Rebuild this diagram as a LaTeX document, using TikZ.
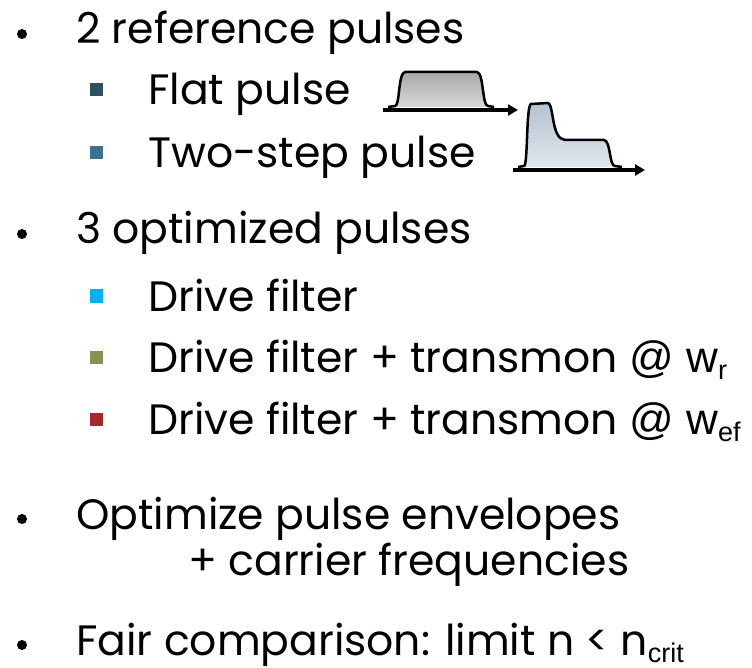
\documentclass[tikz,border=0pt]{standalone}
\usepackage{fontspec}
\setmainfont{Poppins}
\newfontfamily\subfont{Liberation Sans}
\usetikzlibrary{arrows.meta,positioning}

\definecolor{sqflat}{HTML}{2F5062}
\definecolor{sqstep}{HTML}{3D6F90}
\definecolor{sqdrive}{HTML}{00B0F0}
\definecolor{sqwr}{HTML}{8A9150}
\definecolor{sqwef}{HTML}{A5282C}
\definecolor{flattop}{HTML}{A8A8A8}
\definecolor{flatbot}{HTML}{D8D8D8}
\definecolor{steptop}{HTML}{B4C2D0}
\definecolor{stepbot}{HTML}{E2E7EE}

% symbols and subscripts set in a second face
\newcommand{\arialpart}[1]{{\subfont\fontsize{44}{44}\selectfont #1}}
\newcommand{\lowsub}[1]{\raisebox{-7pt}{\subfont\fontsize{27}{27}\selectfont #1}}

\tikzset{
  txt/.style={anchor=base west, inner sep=0pt, font=\fontsize{42.5}{46}\selectfont},
  dot/.style={circle, fill=black, minimum size=10pt, inner sep=0pt},
  marker/.style={fill=#1, minimum size=13pt, inner sep=0pt},
  pulseline/.style={line width=3.5pt, -{Triangle[length=10pt,width=11pt]}},
}

\begin{document}
\begin{tikzpicture}[x=1pt,y=-1pt]
\useasboundingbox (0,0) rectangle (752,668);

% main bullets
\node[dot] (d1) at (22,34) {};
\node[txt] (head1) at (76,44) {2 reference pulses};
\node[dot] (d2) at (22,234) {};
\node[txt] (head2) at (76,244) {3 optimized pulses};
\node[dot] (d3) at (22,519) {};
\node[txt] (head3) at (76,529) {Optimize pulse envelopes};
\node[txt] (head3b) at (188,575) {+ carrier frequencies};
\node[dot] (d4) at (22,645) {};
\node[txt] (head4) at (76,655) {Fair comparison: limit n < n\lowsub{crit}};

% sub items
\node[marker=sqflat] (mflat) at (96,90) {};
\node[txt] (flat) at (148,105) {Flat pulse};
\node[marker=sqstep] (mstep) at (96,153) {};
\node[txt] (twostep) at (148,168) {Two-step pulse};
\node[marker=sqdrive] (mdrive) at (96,296) {};
\node[txt] (drive) at (148,311) {Drive filter};
\node[marker=sqwr] (mwr) at (96,357) {};
\node[txt] (drivewr) at (148,372) {Drive filter + transmon \arialpart{@ w}\lowsub{r}};
\node[marker=sqwef] (mwef) at (96,419) {};
\node[txt] (drivewef) at (148,434) {Drive filter + transmon \arialpart{@ w}\lowsub{ef}};

% flat pulse
\shade[top color=flattop, bottom color=flatbot, draw=black, line width=2.5pt, line join=round]
  (388,107) -- (395,106) .. controls (400,106) and (398,73) .. (405,72) -- (477,72)
  .. controls (484,73) and (482,106) .. (488,106) -- (494,107);
\draw[pulseline] (383,110) -- (518,110);

% two-step pulse
\shade[top color=steptop, bottom color=stepbot, draw=black, line width=2.5pt, line join=round]
  (518,167) -- (524,166) .. controls (528,166) and (526,105) .. (531,104) -- (548,103)
  .. controls (554,104) and (551,139) .. (565,140) -- (604,140)
  .. controls (611,141) and (609,166) .. (615,166) -- (622,167);
\draw[pulseline] (513,170) -- (645,170);
\end{tikzpicture}
\end{document}
